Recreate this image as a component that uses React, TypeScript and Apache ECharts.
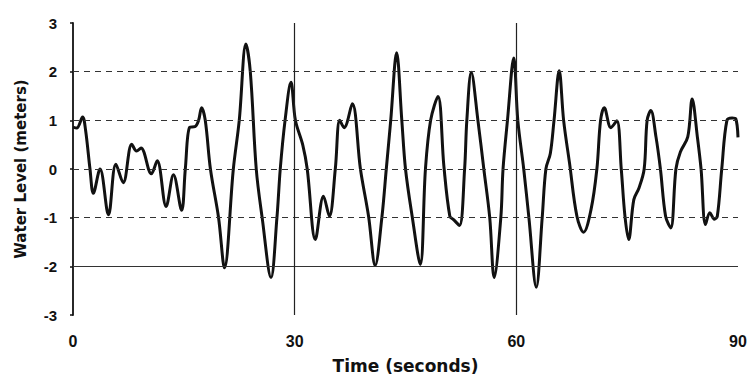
import React, { useEffect, useRef } from "react";
import * as echarts from "echarts";

const timeSeconds = [
  0, 0.5, 1.3, 1.7, 2.3, 2.75, 3.66, 4.8, 5.8, 6.8, 7.95, 8.6, 9.2, 10.6, 11.4, 12.6, 13.6, 14.7,
  15.2, 15.8, 16.5, 17.0, 17.4, 17.9, 18.6, 19.7, 20.5, 21.7, 22.5, 23.4, 24.0, 24.8, 25.6, 26.8,
  27.6, 28.05, 28.7, 29.5, 30.1, 31.1, 31.7, 32.8, 33.9, 34.7, 35.5, 36.1, 36.7, 37.8, 38.9, 40.0,
  40.9, 41.8, 42.4, 43.0, 43.8, 44.5, 45.0, 45.9, 47.0, 47.7, 48.4, 49.4, 50.2, 51.0, 51.5, 52.3,
  53.0, 53.3, 53.9, 54.8, 55.6, 56.4, 57.0, 57.9, 58.2, 58.8, 59.65, 60.2, 61.0, 61.7, 62.7, 63.5,
  64.0, 64.6, 65.1, 65.8, 66.4, 67.2, 68.2, 69.1, 70.1, 70.9, 71.4, 71.9, 72.8, 73.6, 74.2, 74.7,
  75.2, 75.9, 76.6, 77.3, 77.7, 78.2, 78.9, 79.5, 80.2, 80.9, 81.6, 82.2, 83.2, 83.8, 84.5, 85.0,
  85.6, 86.2, 86.8, 87.2, 87.8, 88.5, 89.2, 89.7, 90.0,
];

const waterLevel = [
  0.86, 0.84, 1.07, 0.8, 0.0, -0.5, 0.0, -0.94, 0.1, -0.28, 0.51, 0.37, 0.43, -0.1, 0.17, -0.77, -0.12, -0.85,
  0.0, 0.86, 0.87, 1.0, 1.26, 1.0, 0.0, -1.0, -2.03, 0.0, 1.0, 2.57, 1.99, 0.0, -1.0, -2.23,
  -1.0, 0.0, 1.0, 1.78, 1.0, 0.49, 0.0, -1.45, -0.56, -0.97, 0.0, 1.0, 0.85, 1.34, 0.0, -0.97,
  -1.98, -1.0, 0.0, 1.0, 2.39, 1.0, 0.0, -0.97, -1.96, 0.0, 1.0, 1.49, 0.05, -0.97, -1.04, -1.16,
  0.0, 1.0, 1.99, 1.0, 0.0, -1.0, -2.23, -1.0, 0.0, 1.0, 2.28, 1.0, 0.0, -1.0, -2.43, -1.0,
  0.0, 0.32, 1.0, 2.02, 1.0, 0.12, -0.97, -1.3, -0.84, 0.0, 1.0, 1.26, 0.85, 0.99, 0.0, -0.97,
  -1.45, -0.63, -0.39, 0.0, 1.0, 1.2, 0.66, 0.0, -0.97, -1.21, 0.0, 0.35, 0.66, 1.44, 0.66, 0.0,
  -1.14, -0.9, -1.03, -0.97, 0.0, 1.0, 1.05, 1.03, 0.65,
];

const xTicks = [0, 30, 60, 90];
const yTicks = [-3, -2, -1, 0, 1, 2, 3];
const dashedLevels = [2, 1, 0, -1];
const solidLevels = [-2];
const verticalMarks = [30, 60];

export default function App() {
  const ref = useRef<HTMLDivElement>(null);

  useEffect(() => {
    if (!ref.current) return;
    const chart = echarts.init(ref.current, undefined, { renderer: "svg" });
    const data = timeSeconds.map((t, i) => [t, waterLevel[i]]);
    const markData: any[] = [
      ...dashedLevels.map((y) => ({ yAxis: y, lineStyle: { type: [6, 5], color: "#333", width: 1 } })),
      ...solidLevels.map((y) => ({ yAxis: y, lineStyle: { type: "solid", color: "#333", width: 1.2 } })),
      ...verticalMarks.map((x) => ({ xAxis: x, lineStyle: { type: "solid", color: "#222", width: 1.2 } })),
    ];
    chart.setOption({
      animation: false,
      backgroundColor: "#ffffff",
      grid: { left: 73, right: 14, top: 23, bottom: 65, containLabel: false, outerBoundsMode: "none" },
      xAxis: {
        type: "value",
        min: xTicks[0],
        max: xTicks[xTicks.length - 1],
        interval: 30,
        axisLine: { show: false },
        axisTick: { show: false },
        splitLine: { show: false },
        axisLabel: {
          margin: 18,
          color: "#111",
          fontFamily: "Liberation Sans",
          fontWeight: "bold",
          fontSize: 16,
        },
        name: "Time (seconds)",
        nameLocation: "middle",
        nameGap: 42,
        nameTextStyle: {
          color: "#111",
          fontFamily: "DejaVu Sans",
          fontWeight: "bold",
          fontSize: 17,
        },
      },
      yAxis: {
        type: "value",
        min: yTicks[0],
        max: yTicks[yTicks.length - 1],
        interval: 1,
        axisLine: { show: true, onZero: false, lineStyle: { color: "#111", width: 1.8 } },
        axisTick: { show: true, length: 3, lineStyle: { color: "#111", width: 1.5 } },
        splitLine: { show: false },
        axisLabel: {
          margin: 16,
          color: "#111",
          fontFamily: "Liberation Sans",
          fontWeight: "bold",
          fontSize: 15,
        },
        name: "Water Level (meters)",
        nameLocation: "middle",
        nameRotate: 90,
        nameGap: 45,
        nameTextStyle: {
          color: "#111",
          fontFamily: "DejaVu Sans",
          fontWeight: "bold",
          fontSize: 15,
        },
      },
      series: [
        {
          type: "line",
          data,
          showSymbol: false,
          smooth: 0.35,
          lineStyle: { color: "#111", width: 3 },
          markLine: {
            silent: true,
            symbol: "none",
            label: { show: false },
            data: markData,
          },
          z: 3,
        },
      ],
    });
    return () => chart.dispose();
  }, []);

  return (
    <div
      ref={ref}
      style={{ position: "fixed", left: 0, top: 0, width: 752, height: 380, background: "#fff" }}
    />
  );
}
